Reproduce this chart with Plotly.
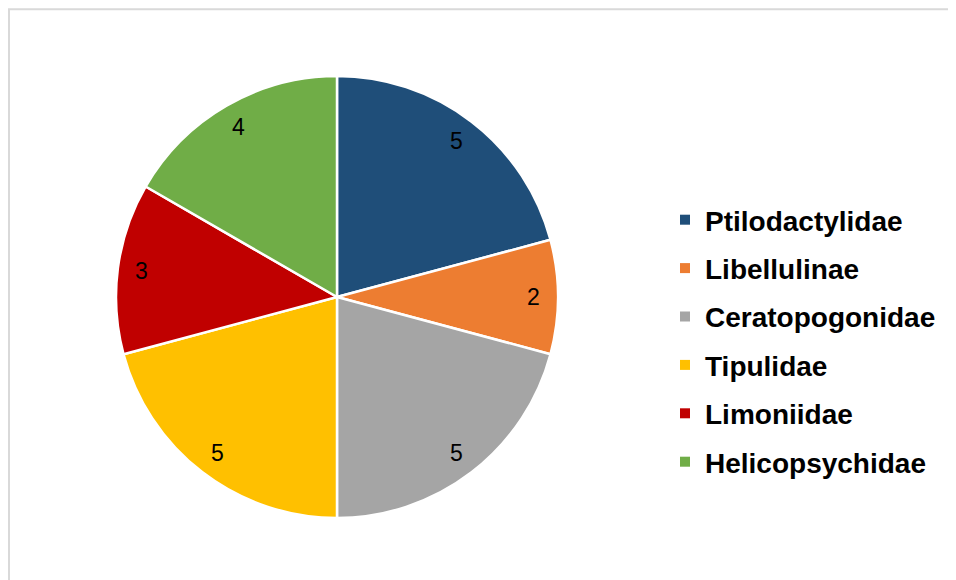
import numpy as np
import plotly.graph_objects as go

# families counted in the sample
families = ["Ptilodactylidae", "Libellulinae", "Ceratopogonidae",
            "Tipulidae", "Limoniidae", "Helicopsychidae"]
counts = [5, 2, 5, 5, 3, 4]
colors = ["#1F4E79", "#ED7D31", "#A5A5A5", "#FFC000", "#C00000", "#70AD47"]

W, H = 956, 580
OFF = 8  # page body margin that the browser adds around the figure


def px(x):
    return (x - OFF) / W


def py(y):
    return (H - (y - OFF)) / H


# pie geometry, in page pixels
cx, cy, R = 337, 297, 221

fig = go.Figure()

fig.add_trace(go.Pie(
    labels=families,
    values=counts,
    sort=False,
    direction="clockwise",
    rotation=0,
    marker=dict(colors=colors, line=dict(color="white", width=2.5)),
    textinfo="none",
    domain=dict(x=[px(cx - R), px(cx + R)], y=[py(cy + R), py(cy - R)]),
    showlegend=False,
    hoverinfo="label+value",
))

# value labels near the outer edge of each slice ("inside end")
vals = np.array(counts, dtype=float)
mid = (np.cumsum(vals) - vals / 2) / vals.sum() * 2 * np.pi
r_lab = 0.89 * R
for v, a in zip(counts, mid):
    fig.add_annotation(
        x=px(cx + r_lab * np.sin(a)), y=py(cy - r_lab * np.cos(a)),
        xref="paper", yref="paper", xanchor="center", yanchor="middle",
        text=str(v), showarrow=False,
        font=dict(family="Arial, Liberation Sans", size=23, color="black"),
    )

# legend entries as empty square-marker traces so the row spacing can be set
for i, (name, col) in enumerate(zip(families, colors)):
    fig.add_trace(go.Scatter(
        x=[None], y=[None], mode="markers", name=name,
        marker=dict(symbol="square", size=10, color=col),
        legendgroup=str(i), showlegend=True,
    ))

# light grey chart-area frame (cut off on the right and bottom)
fig.add_shape(type="rect", xref="paper", yref="paper",
              x0=px(9), x1=1.05, y0=-0.05, y1=py(9.2),
              line=dict(color="#D9D9D9", width=2), fillcolor="rgba(0,0,0,0)")

fig.update_layout(
    width=W, height=H,
    margin=dict(l=0, r=0, t=0, b=0),
    paper_bgcolor="white",
    plot_bgcolor="white",
    xaxis=dict(visible=False),
    yaxis=dict(visible=False),
    legend=dict(
        x=px(665), xanchor="left",
        y=py(195), yanchor="top",
        font=dict(family="Arial, Liberation Sans", size=28, color="black", weight="bold"),
        tracegroupgap=9,
        bgcolor="rgba(0,0,0,0)",
    ),
)

fig.write_html("out.html")
